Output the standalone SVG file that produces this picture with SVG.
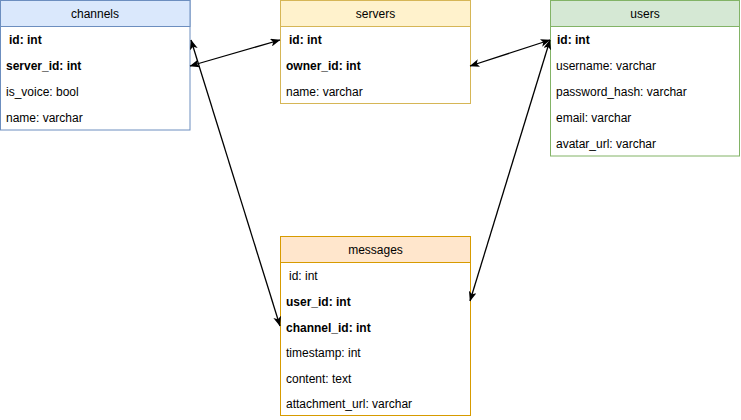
<svg xmlns="http://www.w3.org/2000/svg" width="741" height="420" viewBox="0 0 741 420">
<style>
text{font-family:"Liberation Sans",Arial,sans-serif;font-size:12px;fill:#000}
.h{text-anchor:middle}
.b{font-weight:bold}
.body{fill:#fff}
.conn{fill:none;stroke:#000;stroke-width:1.3}
</style>
<defs>
<marker id="arr" viewBox="0 0 10 8" refX="9.5" refY="4" markerWidth="10" markerHeight="8" markerUnits="userSpaceOnUse" orient="auto-start-reverse">
<path d="M0,0 L10,4 L0,8 L2.5,4 z" fill="#000"/>
</marker>
</defs>
<rect width="741" height="420" fill="#fff"/>
<g id="channels">
<rect x="0.5" y="0.5" width="189.5" height="129.5" class="body" stroke="#6c8ebf"/>
<rect x="0.5" y="0.5" width="189.5" height="26" fill="#dae8fc" stroke="#6c8ebf"/>
<text x="95" y="18" class="h">channels</text>
<text x="9" y="44" class="b">id: int</text>
<text x="6" y="70" class="b">server_id: int</text>
<text x="6" y="96">is_voice: bool</text>
<text x="6" y="122">name: varchar</text>
</g>
<g id="servers">
<rect x="280.5" y="0.5" width="190" height="103" class="body" stroke="#d6b656"/>
<rect x="280.5" y="0.5" width="190" height="26" fill="#fff2cc" stroke="#d6b656"/>
<text x="375.5" y="18" class="h">servers</text>
<text x="289" y="44" class="b">id: int</text>
<text x="286" y="70" class="b">owner_id: int</text>
<text x="286" y="96">name: varchar</text>
</g>
<g id="users">
<rect x="550.5" y="0.5" width="189" height="155.5" class="body" stroke="#82b366"/>
<rect x="550.5" y="0.5" width="189" height="26" fill="#d5e8d4" stroke="#82b366"/>
<text x="645" y="18" class="h">users</text>
<text x="557" y="44" class="b">id: int</text>
<text x="556" y="70">username: varchar</text>
<text x="556" y="96">password_hash: varchar</text>
<text x="556" y="122">email: varchar</text>
<text x="556" y="148">avatar_url: varchar</text>
</g>
<g id="messages">
<rect x="280.5" y="236.5" width="190" height="179" class="body" stroke="#d79b00"/>
<rect x="280.5" y="236.5" width="190" height="26" fill="#ffe6cc" stroke="#d79b00"/>
<text x="375.5" y="254" class="h">messages</text>
<text x="289" y="280">id: int</text>
<text x="286" y="306" class="b">user_id: int</text>
<text x="286" y="332" class="b">channel_id: int</text>
<text x="286" y="357">timestamp: int</text>
<text x="286" y="383">content: text</text>
<text x="286" y="408">attachment_url: varchar</text>
</g>
<g id="connectors">
<line x1="190" y1="66" x2="280" y2="40" class="conn" marker-start="url(#arr)" marker-end="url(#arr)"/>
<line x1="470" y1="66" x2="550" y2="40" class="conn" marker-start="url(#arr)" marker-end="url(#arr)"/>
<line x1="191" y1="40" x2="280" y2="326" class="conn" marker-start="url(#arr)" marker-end="url(#arr)"/>
<line x1="550" y1="40" x2="470" y2="301" class="conn" marker-start="url(#arr)" marker-end="url(#arr)"/>
</g>
</svg>
